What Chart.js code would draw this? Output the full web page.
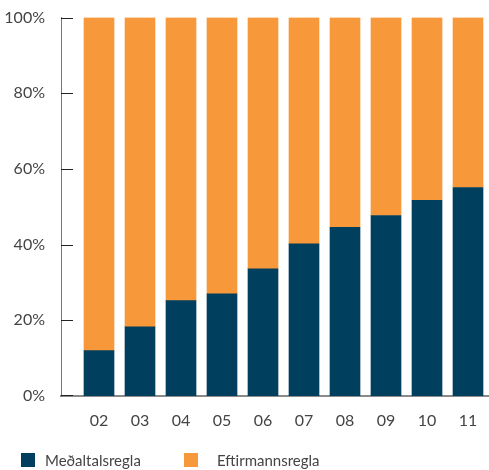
<!DOCTYPE html>
<html>
<head>
<meta charset="utf-8">
<script src="https://cdn.jsdelivr.net/npm/chart.js@4/dist/chart.umd.min.js"></script>
<style>
  body { margin: 0; background: #fff; }
  #wrap { position: relative; width: 489px; height: 470px; }
  .lg-box { position: absolute; width: 14px; height: 14px; top: 453px; }
  .lg-txt { position: absolute; top: 450px; font: 15px Lato, sans-serif; color: #444; line-height: 20px; }
</style>
</head>
<body>
<div id="wrap">
  <canvas id="chart" width="489" height="470"></canvas>
  <div id="legend"></div>
</div>
<script>
// ár (02–11) og hlutfall hvorrar reglu
var years      = ['02', '03', '04', '05', '06', '07', '08', '09', '10', '11'];
var medaltal   = [12, 18.3, 25.2, 27, 33.6, 40.2, 44.6, 47.7, 51.7, 55.1];
var eftirmanns = [88, 81.7, 74.8, 73, 66.4, 59.8, 55.4, 52.3, 48.3, 44.9];
var yTicks     = [0, 20, 40, 60, 80, 100];

var NAVY   = '#003f5e';
var ORANGE = '#f7993a';

var xs = years.map(function (y) { return Number(y); });

function points(values) {
  return values.map(function (v, i) { return { x: xs[i], y: v }; });
}

// litlu strikin innan við y-ásinn
var innerTicks = {
  id: 'innerTicks',
  afterDraw: function (chart) {
    var ctx = chart.ctx, area = chart.chartArea, y = chart.scales.y;
    ctx.save();
    ctx.strokeStyle = '#222';
    ctx.lineWidth = 1;
    yTicks.forEach(function (v) {
      var py = Math.round(y.getPixelForValue(v)) + 0.5;
      if (v === 0) py -= 1;
      ctx.beginPath();
      ctx.moveTo(area.left, py);
      ctx.lineTo(area.left + 12, py);
      ctx.stroke();
    });
    ctx.restore();
  }
};

new Chart(document.getElementById('chart'), {
  type: 'bar',
  data: {
    datasets: [
      { label: 'Meðaltalsregla', data: points(medaltal), backgroundColor: NAVY, barThickness: 30 },
      { label: 'Eftirmannsregla', data: points(eftirmanns), backgroundColor: ORANGE, barThickness: 30 },
    ],
  },
  options: {
    responsive: false,
    animation: false,
    layout: { padding: { top: 15, right: 0, bottom: 44, left: 0 } },
    plugins: { legend: { display: false }, tooltip: { enabled: false } },
    scales: {
      x: {
        type: 'linear',
        stacked: true,
        offset: false,
        min: 2 - 38 / 41,
        max: 11 + 21 / 41,
        afterFit: function (s) { s.height = 30; },
        grid: { display: false },
        border: { display: true, color: '#8a8a8a', width: 2 },
        ticks: {
          stepSize: 1,
          includeBounds: false,
          autoSkip: false,
          maxRotation: 0,
          padding: 7,
          color: '#444',
          font: { family: 'Lato', size: 16 },
          callback: function (v) {
            var i = xs.indexOf(v);
            return i >= 0 ? years[i] : '';
          },
        },
      },
      y: {
        stacked: true,
        min: 0,
        max: 100,
        afterFit: function (s) { s.width = 61; },
        grid: { display: false },
        border: { display: true, color: '#777', width: 1 },
        ticks: {
          stepSize: 20,
          padding: 8,
          color: '#444',
          font: { family: 'Lato', size: 16 },
          callback: function (v) { return v + '%'; },
        },
      },
    },
  },
  plugins: [innerTicks],
});

// skýringar neðst
var legendItems = [
  { text: 'Meðaltalsregla', color: NAVY, box: 21, txt: 45 },
  { text: 'Eftirmannsregla', color: ORANGE, box: 184, txt: 217 },
];
var lg = document.getElementById('legend');
legendItems.forEach(function (it) {
  var b = document.createElement('div');
  b.className = 'lg-box';
  b.style.left = it.box + 'px';
  b.style.background = it.color;
  var t = document.createElement('div');
  t.className = 'lg-txt';
  t.style.left = it.txt + 'px';
  t.textContent = it.text;
  lg.appendChild(b);
  lg.appendChild(t);
});
</script>
</body>
</html>
